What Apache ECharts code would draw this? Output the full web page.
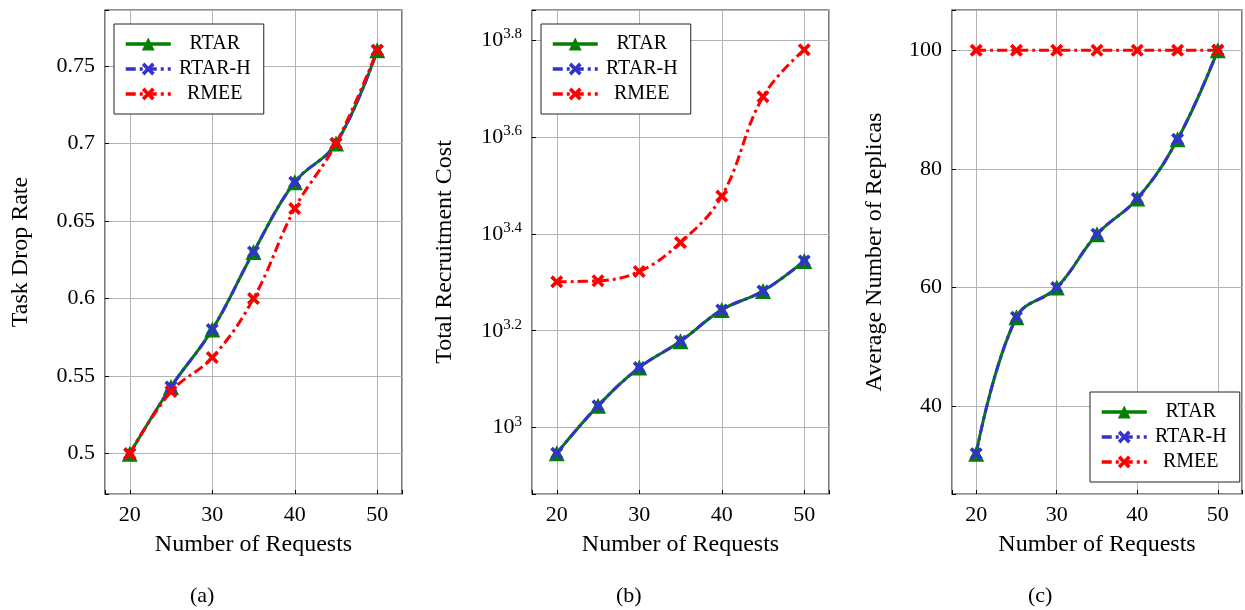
<!DOCTYPE html>
<html>
<head>
<meta charset="utf-8">
<script src="https://cdn.jsdelivr.net/npm/echarts@6/dist/echarts.min.js"></script>
<style>
  html, body { margin: 0; padding: 0; background: #fff; }
  #main { width: 1245px; height: 610px; }
</style>
</head>
<body>
<div id="main"></div>
<script>
// number of requests on the x axis
var requests = [20, 25, 30, 35, 40, 45, 50];
var xTicks = [20, 30, 40, 50];

// (a) task drop rate
var dropRTAR  = [0.5, 0.543, 0.58, 0.63, 0.675, 0.70, 0.76];
var dropRTARH = [0.5, 0.543, 0.58, 0.63, 0.675, 0.70, 0.76];
var dropRMEE  = [0.5, 0.54, 0.562, 0.60, 0.658, 0.70, 0.76];
var dropTicks = [0.5, 0.55, 0.6, 0.65, 0.7, 0.75];

// (b) total recruitment cost (log scale)
var costRTAR  = [885, 1109, 1330, 1507, 1750, 1914, 2208];
var costRTARH = [885, 1109, 1330, 1507, 1750, 1914, 2208];
var costRMEE  = [2000, 2010, 2100, 2410, 3006, 4820, 6025];
var costTicks = [3, 3.2, 3.4, 3.6, 3.8]; // log10 exponents

// (c) average number of replicas
var replRTAR  = [32, 55, 60, 69, 75, 85, 100];
var replRTARH = [32, 55, 60, 69, 75, 85, 100];
var replRMEE  = [100, 100, 100, 100, 100, 100, 100];
var replTicks = [40, 60, 80, 100];

var FONT = '"Liberation Serif", "DejaVu Serif", serif';
var GREEN = '#008000', BLUE = '#3333cc', RED = '#ff0000';
// thick "x" mark like the pgfplots one
var X_MARK = 'path://M0,4 L4,0 L10,6 L16,0 L20,4 L14,10 L20,16 L16,20 L10,14 L4,20 L0,16 L6,10 Z';

function pairs(vals, fn) {
    return requests.map(function (r, i) { return [r, fn ? fn(vals[i]) : vals[i]]; });
}
function onTick(list, v) {
    for (var i = 0; i < list.length; i++) {
        if (Math.abs(list[i] - v) < 1e-6) return true;
    }
    return false;
}

function makeSeries(idx, a, b, c, fn) {
    return [
        {
            name: 'RTAR', type: 'line', xAxisIndex: idx, yAxisIndex: idx,
            data: pairs(a, fn), smooth: 0.4,
            symbol: 'triangle', symbolSize: 16,
            itemStyle: { color: GREEN },
            lineStyle: { color: GREEN, width: 3 }
        },
        {
            name: 'RTAR-H', type: 'line', xAxisIndex: idx, yAxisIndex: idx,
            data: pairs(b, fn), smooth: 0.4,
            symbol: X_MARK, symbolSize: 13,
            itemStyle: { color: BLUE },
            lineStyle: { color: BLUE, width: 3, type: [10, 4, 3, 4] }
        },
        {
            name: 'RMEE', type: 'line', xAxisIndex: idx, yAxisIndex: idx,
            data: pairs(c, fn), smooth: 0.4,
            symbol: X_MARK, symbolSize: 13,
            itemStyle: { color: RED },
            lineStyle: { color: RED, width: 3, type: [10, 4, 3, 4] }
        }
    ];
}

function xAxisOf(idx) {
    return {
        type: 'value', gridIndex: idx, min: 17, max: 53,
        name: 'Number of Requests', nameLocation: 'middle', nameGap: 39,
        nameTextStyle: { fontFamily: FONT, fontSize: 24, color: '#000' },
        axisLine: { show: false },
        axisTick: { inside: true, length: 4, lineStyle: { color: '#000' } },
        axisLabel: {
            fontFamily: FONT, fontSize: 22, color: '#000', margin: 10,
            showMinLabel: true, showMaxLabel: true,
            formatter: function (v) { return onTick(xTicks, v) ? String(Math.round(v)) : ''; }
        },
        splitLine: { show: true, lineStyle: { color: '#b3b3b3', width: 1 } }
    };
}

function yAxisOf(idx, min, max, name, gap, ticks, fmt, rich) {
    return {
        type: 'value', gridIndex: idx, min: min, max: max,
        name: name, nameLocation: 'middle', nameGap: gap,
        nameTextStyle: { fontFamily: FONT, fontSize: 24, color: '#000' },
        axisLine: { show: false },
        axisTick: { inside: true, length: 4, lineStyle: { color: '#000' } },
        axisLabel: {
            fontFamily: FONT, fontSize: 22, color: '#000', margin: 10,
            formatter: function (v) { return onTick(ticks, v) ? fmt(v) : ''; },
            rich: rich
        },
        splitLine: { show: true, lineStyle: { color: '#b3b3b3', width: 1 } }
    };
}

function legendOf(left, top) {
    return {
        orient: 'vertical', left: left, top: top,
        data: ['RTAR', 'RTAR-H', 'RMEE'],
        itemWidth: 45, itemHeight: 16, itemGap: 5,
        padding: [10, 10, 10, 10],
        borderColor: '#222', borderWidth: 1, backgroundColor: '#fff',
        selectedMode: false,
        lineStyle: { width: 3.5 },
        formatter: function (n) { return '{t|' + n + '}'; },
        textStyle: {
            rich: { t: { fontFamily: FONT, fontSize: 20, lineHeight: 16, color: '#000', width: 78, align: 'center' } }
        }
    };
}

var chart = echarts.init(document.getElementById('main'));

var option = {
    animation: false,
    backgroundColor: '#fff',
    grid: [
        { left: 105, top: 10, width: 297, height: 484, show: true, borderColor: '#222', borderWidth: 1.2, backgroundColor: 'transparent' },
        { left: 532, top: 10, width: 297, height: 484, show: true, borderColor: '#222', borderWidth: 1.2, backgroundColor: 'transparent' },
        { left: 952, top: 10, width: 296, height: 484, show: true, borderColor: '#222', borderWidth: 1.2, backgroundColor: 'transparent' }
    ],
    xAxis: [xAxisOf(0), xAxisOf(1), xAxisOf(2)],
    yAxis: [
        yAxisOf(0, 0.474, 0.786, 'Task Drop Rate', 72, dropTicks,
            function (v) { return String(parseFloat(v.toFixed(2))); }),
        yAxisOf(1, 2.863, 3.862, 'Total Recruitment Cost', 75, costTicks,
            function (v) {
                var e = Math.abs(v - 3) < 1e-6 ? '3' : v.toFixed(1);
                return '{b|10}{s|' + e + '}';
            },
            {
                b: { fontFamily: FONT, fontSize: 22, color: '#000' },
                s: { fontFamily: FONT, fontSize: 15, color: '#000', padding: [0, 0, 12, 0] }
            }),
        yAxisOf(2, 25.2, 106.8, 'Average Number of Replicas', 65, replTicks,
            function (v) { return String(Math.round(v)); })
    ],
    legend: [legendOf(114, 24), legendOf(541, 24), legendOf(1090, 392)],
    graphic: [
        { type: 'text', left: 190, top: 585, style: { text: '(a)', font: '22px ' + FONT, fill: '#000' } },
        { type: 'text', left: 616, top: 585, style: { text: '(b)', font: '22px ' + FONT, fill: '#000' } },
        { type: 'text', left: 1028, top: 585, style: { text: '(c)', font: '22px ' + FONT, fill: '#000' } }
    ],
    series: []
        .concat(makeSeries(0, dropRTAR, dropRTARH, dropRMEE))
        .concat(makeSeries(1, costRTAR, costRTARH, costRMEE, Math.log10))
        .concat(makeSeries(2, replRTAR, replRTARH, replRMEE))
};

chart.setOption(option);
</script>
</body>
</html>
